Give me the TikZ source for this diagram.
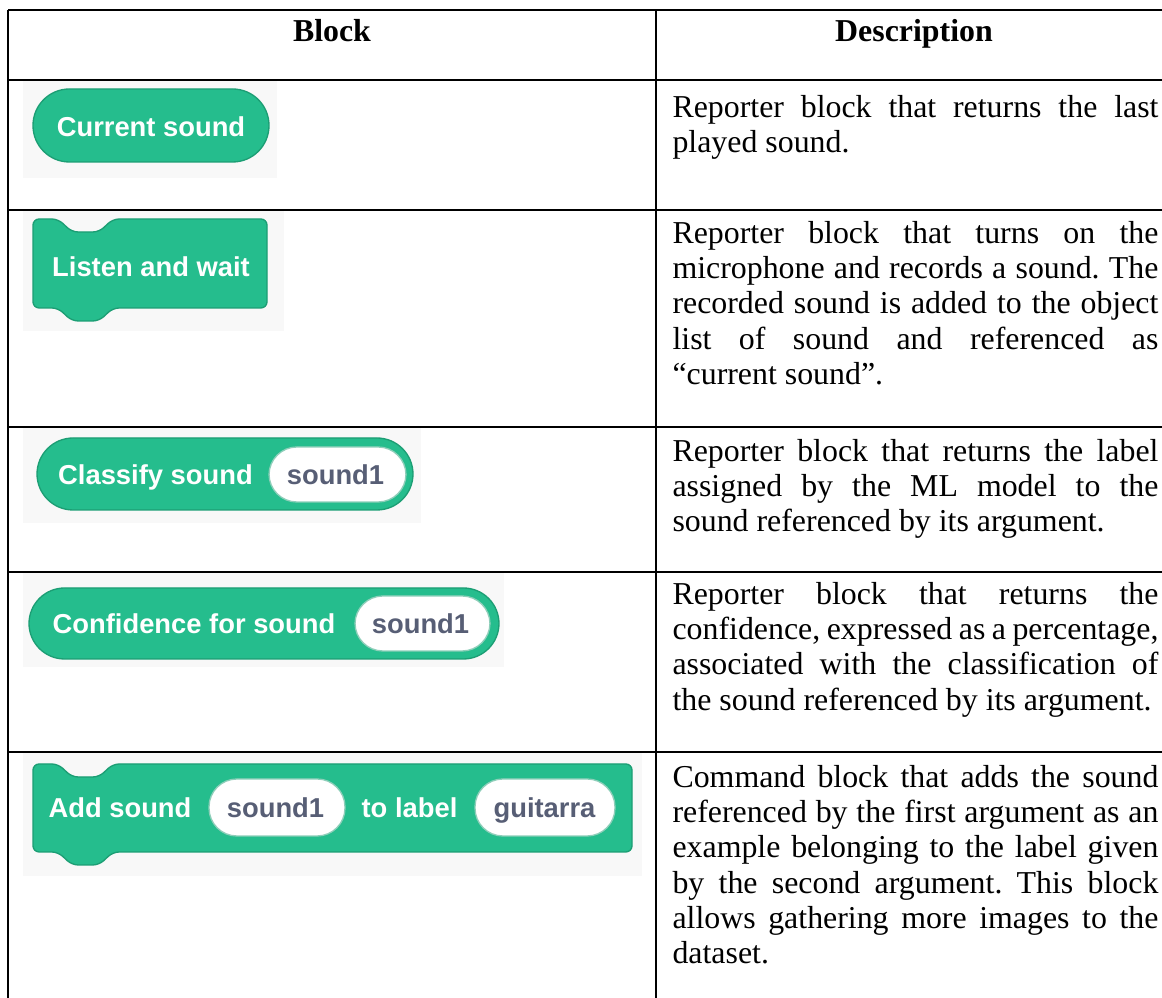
\documentclass[tikz,border=0pt]{standalone}
\usepackage{fontspec}
\setmainfont{Liberation Serif}
\newfontfamily\scratchfont{Liberation Sans}
\definecolor{blockgreen}{RGB}{37,189,141}
\definecolor{blockedge}{RGB}{28,158,116}
\definecolor{argtext}{RGB}{87,94,117}
\definecolor{shotbg}{RGB}{248,248,248}
\hyphenpenalty=10000
\frenchspacing

\begin{document}
\begin{tikzpicture}[x=0.3766pt, y=-0.3766pt,
    rule/.style={line width=0.75pt},
    head/.style={anchor=base, inner sep=0pt, font=\fontsize{12}{13.3}\selectfont\bfseries},
    desc/.style={anchor=north west, inner sep=0pt, text width=183pt, align=justify,
        font=\fontsize{12}{13.3}\selectfont},
    shot/.style={fill=shotbg},
    blk/.style={fill=blockgreen, draw=blockedge, line width=0.5pt},
    arg/.style={fill=white, draw=blockedge!50, line width=0.5pt, rounded corners=10.5pt},
    wlabel/.style={anchor=base, inner sep=0pt, text=white,
        font=\scratchfont\fontsize{10.3}{12}\selectfont\bfseries},
    alabel/.style={wlabel, text=argtext}]
    \useasboundingbox (0,0) rectangle (1162,998);

    % screenshots of the blocks
    \fill[shot] (23,81) rectangle (277,178);
    \fill[shot] (23,210) rectangle (284,331);
    \fill[shot] (23,427) rectangle (421,523);
    \fill[shot] (23,571) rectangle (504,667);
    \fill[shot] (23,752) rectangle (642,876);

    % table rules
    \draw[rule] (8,10) -- (1162,10);
    \draw[rule] (8,80) -- (1162,80);
    \draw[rule] (8,210) -- (1162,210);
    \draw[rule] (8,427) -- (1162,427);
    \draw[rule] (8,572) -- (1162,572);
    \draw[rule] (8,752) -- (1162,752);
    \draw[rule] (8,10) -- (8,998);
    \draw[rule] (656,10) -- (656,998);

    \node[head] (hblock) at (332,42) {Block};
    \node[head] (hdesc) at (914,42) {Description};

    % Current sound
    \filldraw[blk, rounded corners=13.7pt] (33,89) rectangle (269,162);
    \node[wlabel] (cur) at (151,137) {Current sound};

    % Listen and wait
    \filldraw[blk, rounded corners=2.3pt] (33,219) -- (58,219) -- (72,232) -- (99,232) -- (113,219)
        -- (267,219) -- (267,308) -- (113,308) -- (99,321) -- (72,321) -- (58,308) -- (33,308) -- cycle;
    \node[wlabel] (lis) at (151,277) {Listen and wait};

    % Classify sound
    \filldraw[blk, rounded corners=13.6pt] (37,438) rectangle (413,510);
    \filldraw[arg] (269,447) rectangle (406,502);
    \node[wlabel] (cls) at (155.5,485) {Classify sound};
    \node[alabel] (clsarg) at (335.5,485) {sound1};

    % Confidence for sound
    \filldraw[blk, rounded corners=13.4pt] (29,588) rectangle (499,659);
    \filldraw[arg] (355,596) rectangle (490,651);
    \node[wlabel] (conf) at (194,634) {Confidence for sound};
    \node[alabel] (confarg) at (420.5,634) {sound1};

    % Add sound ... to label ...
    \filldraw[blk, rounded corners=2.3pt] (33,764) -- (58,764) -- (72,777) -- (99,777) -- (113,764)
        -- (632,764) -- (632,852) -- (113,852) -- (99,865) -- (72,865) -- (58,852) -- (33,852) -- cycle;
    \filldraw[arg] (209,779) rectangle (345,836);
    \filldraw[arg] (475,779) rectangle (615,836);
    \node[wlabel] (add) at (120,818) {Add sound};
    \node[alabel] (addarg1) at (275.5,818) {sound1};
    \node[wlabel] (tolab) at (409.5,818) {to label};
    \node[alabel] (addarg2) at (544.5,818) {guitarra};

    % descriptions
    \node[desc] (d1) at (672,92) {\strut Reporter block that returns the last\linebreak
        played sound.};
    \node[desc] (d2) at (672,218) {\strut Reporter block that turns on the\linebreak
        microphone and records a sound. The\linebreak
        recorded sound is added to the object\linebreak
        list of sound and referenced as\linebreak
        “current sound”.};
    \node[desc] (d3) at (672,436) {\strut Reporter block that returns the label\linebreak
        assigned by the ML model to the\linebreak
        sound referenced by its argument.};
    \node[desc] (d4) at (672,579) {\strut Reporter block that returns the\linebreak
        confidence, expressed as a percentage,\linebreak
        associated with the classification of\linebreak
        the sound referenced by its argument.};
    \node[desc] (d5) at (672,762) {\strut Command block that adds the sound\linebreak
        referenced by the first argument as an\linebreak
        example belonging to the label given\linebreak
        by the second argument. This block\linebreak
        allows gathering more images to the\linebreak
        dataset.};
\end{tikzpicture}
\end{document}
